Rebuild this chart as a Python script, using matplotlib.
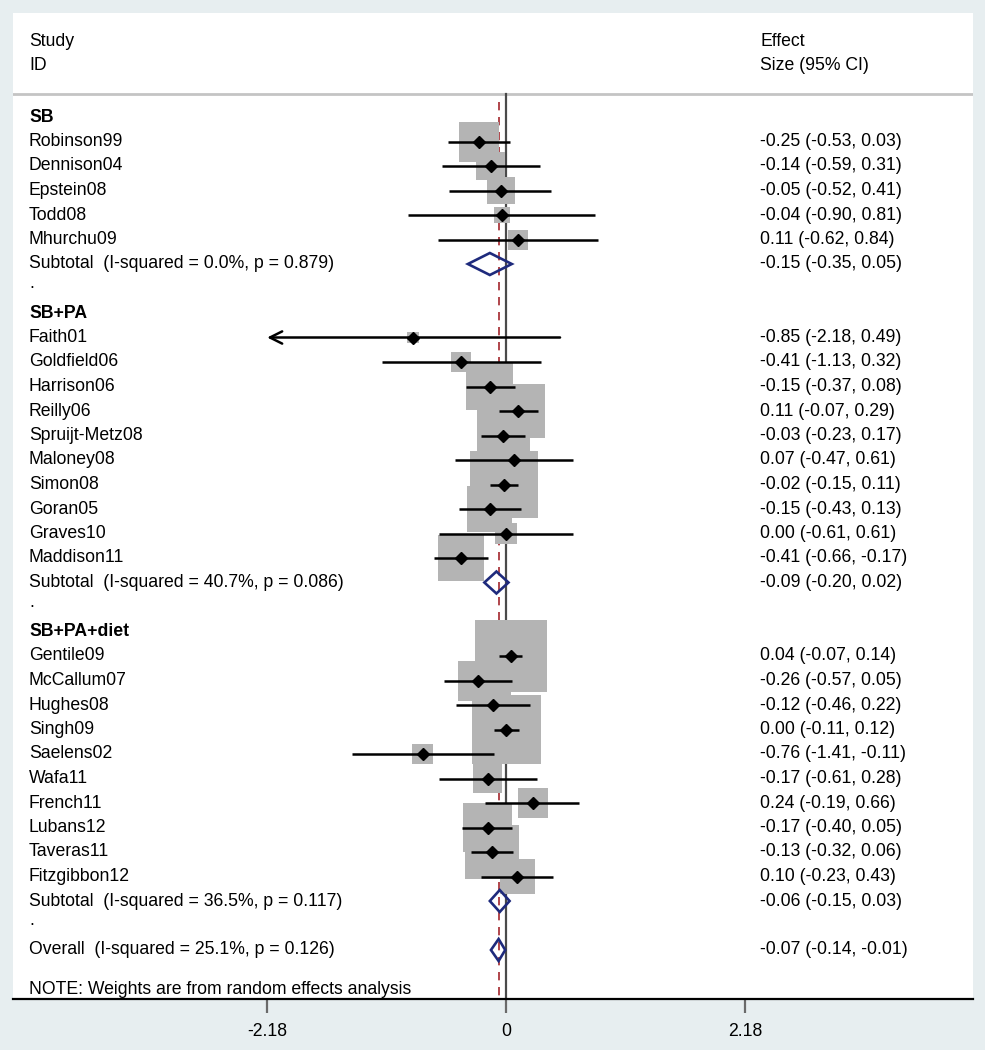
import numpy as np
import matplotlib.pyplot as plt
from matplotlib.patches import Rectangle, Polygon
from matplotlib.transforms import blended_transform_factory

plt.rcParams['font.family'] = ['Liberation Sans', 'DejaVu Sans']

# Datos: efecto, IC 95% y peso relativo (tamano de la caja)
sb_names = ["Robinson99", "Dennison04", "Epstein08", "Todd08", "Mhurchu09"]
sb_es = [-0.25, -0.14, -0.05, -0.04, 0.11]
sb_lo = [-0.53, -0.59, -0.52, -0.90, -0.62]
sb_hi = [0.03, 0.31, 0.41, 0.81, 0.84]
sb_w = [16.0, 8.4, 7.8, 2.6, 4.0]
sb_sub = [-0.15, -0.35, 0.05]
sb_het = "Subtotal  (I-squared = 0.0%, p = 0.879)"

pa_names = ["Faith01", "Goldfield06", "Harrison06", "Reilly06", "Spruijt-Metz08",
            "Maloney08", "Simon08", "Goran05", "Graves10", "Maddison11"]
pa_es = [-0.85, -0.41, -0.15, 0.11, -0.03, 0.07, -0.02, -0.15, 0.00, -0.41]
pa_lo = [-2.18, -1.13, -0.37, -0.07, -0.23, -0.47, -0.15, -0.43, -0.61, -0.66]
pa_hi = [0.49, 0.32, 0.08, 0.29, 0.17, 0.61, 0.11, 0.13, 0.61, -0.17]
pa_w = [1.4, 4.0, 22.1, 29.2, 28.1, 5.8, 46.2, 20.3, 4.8, 21.2]
pa_sub = [-0.09, -0.20, 0.02]
pa_het = "Subtotal  (I-squared = 40.7%, p = 0.086)"

diet_names = ["Gentile09", "McCallum07", "Hughes08", "Singh09", "Saelens02",
              "Wafa11", "French11", "Lubans12", "Taveras11", "Fitzgibbon12"]
diet_es = [0.04, -0.26, -0.12, 0.00, -0.76, -0.17, 0.24, -0.17, -0.13, 0.10]
diet_lo = [-0.07, -0.57, -0.46, -0.11, -1.41, -0.61, -0.19, -0.40, -0.32, -0.23]
diet_hi = [0.14, 0.05, 0.22, 0.12, -0.11, 0.28, 0.66, 0.05, 0.06, 0.43]
diet_w = [51.8, 16.0, 13.0, 47.6, 4.4, 8.4, 9.0, 24.0, 29.2, 12.3]
diet_sub = [-0.06, -0.15, 0.03]
diet_het = "Subtotal  (I-squared = 36.5%, p = 0.117)"

overall = [-0.07, -0.14, -0.01]
overall_het = "Overall  (I-squared = 25.1%, p = 0.126)"

group_labels = ["SB", "SB+PA", "SB+PA+diet"]
tick_vals = [-2.18, 0, 2.18]
tick_labels = ["-2.18", "0", "2.18"]

groups = [
    (group_labels[0], sb_names, sb_es, sb_lo, sb_hi, sb_w, sb_sub, sb_het),
    (group_labels[1], pa_names, pa_es, pa_lo, pa_hi, pa_w, pa_sub, pa_het),
    (group_labels[2], diet_names, diet_es, diet_lo, diet_hi, diet_w, diet_sub, diet_het),
]

# Figura
W, H = 985, 1050
fig = plt.figure(figsize=(W / 100, H / 100), dpi=100, facecolor='#e7eef0')
ax_l, ax_r, ax_t, ax_b = 13, 973, 13, 999
ax = fig.add_axes([ax_l / W, (H - ax_b) / H, (ax_r - ax_l) / W, (ax_b - ax_t) / H])
ax.set_facecolor('white')

x0_px, px_unit = 506.3, 109.7
ax.set_xlim((ax_l - x0_px) / px_unit, (ax_r - x0_px) / px_unit)
row0_px, px_row = 117, 24.5
ax.set_ylim((ax_b - row0_px) / px_row, (ax_t - row0_px) / px_row)

trans = blended_transform_factory(ax.transAxes, ax.transData)
x_lab = (29 - ax_l) / (ax_r - ax_l)
x_val = (760 - ax_l) / (ax_r - ax_l)
fs = 12.7
navy = '#1e2a7c'
xmin = tick_vals[0]


def fmt(es, lo, hi):
    return f"{es:.2f} ({lo:.2f}, {hi:.2f})"


def diamond(row, es, lo, hi):
    hh = 11 / px_row
    ax.add_patch(Polygon([(lo, row), (es, row - hh), (hi, row), (es, row + hh)],
                         closed=True, fill=False, edgecolor=navy, lw=1.9, zorder=5))


# Cabecera
ax.text(x_lab, (42 - row0_px) / px_row, "Study", transform=trans, fontsize=fs, va='center')
ax.text(x_lab, (65 - row0_px) / px_row, "ID", transform=trans, fontsize=fs, va='center')
ax.text(x_val, (42 - row0_px) / px_row, "Effect", transform=trans, fontsize=fs, va='center')
ax.text(x_val, (65 - row0_px) / px_row, "Size (95% CI)", transform=trans, fontsize=fs, va='center')
y_hdr = (94 - row0_px) / px_row
ax.axhline(y_hdr, color='#c4c4c4', lw=2, zorder=1)

row = 0
for glabel, names, es, lo, hi, w, sub, het in groups:
    ax.text(x_lab, row, glabel, transform=trans, fontsize=fs, va='center', fontweight='bold')
    row += 1
    for n, e, l, h, wt in zip(names, es, lo, hi, w):
        side = 10 * np.sqrt(wt)
        bw, bh = side / px_unit, side / px_row
        ax.add_patch(Rectangle((e - bw / 2, row - bh / 2), bw, bh,
                               facecolor='#b4b4b4', edgecolor='none', zorder=3))
        if l <= xmin:
            ax.annotate('', xy=(l, row), xytext=(h, row),
                        arrowprops=dict(arrowstyle='->', lw=1.8, color='black',
                                        mutation_scale=22, shrinkA=0, shrinkB=0),
                        zorder=4)
        else:
            ax.plot([l, h], [row, row], color='black', lw=1.8, zorder=4,
                    solid_capstyle='butt')
        ax.plot(e, row, marker='D', color='black', ms=6, zorder=6)
        ax.text(x_lab, row, n, transform=trans, fontsize=fs, va='center')
        ax.text(x_val, row, fmt(e, l, h), transform=trans, fontsize=fs, va='center')
        row += 1
    diamond(row, *sub)
    ax.text(x_lab, row, het, transform=trans, fontsize=fs, va='center')
    ax.text(x_val, row, fmt(*sub), transform=trans, fontsize=fs, va='center')
    row += 1
    ax.text(x_lab, row - 0.2, ".", transform=trans, fontsize=fs, va='center')
    row += 1

diamond(row, *overall)
ax.text(x_lab, row, overall_het, transform=trans, fontsize=fs, va='center')
ax.text(x_val, row, fmt(*overall), transform=trans, fontsize=fs, va='center')
ax.text(x_lab, (989 - row0_px) / px_row, "NOTE: Weights are from random effects analysis",
        transform=trans, fontsize=fs, va='center')

# Lineas verticales: cero y efecto global
ybot = ax.get_ylim()[0]
ax.plot([0, 0], [y_hdr, ybot], color='#4a4a4a', lw=1.6, zorder=2)
ax.plot([overall[0], overall[0]], [(102 - row0_px) / px_row, ybot], color='#a3262c',
        lw=1.2, ls=(0, (5, 4)), zorder=2)

# Ejes
for s in ['top', 'left', 'right']:
    ax.spines[s].set_visible(False)
ax.spines['bottom'].set_linewidth(1.6)
ax.set_yticks([])
ax.set_xticks(tick_vals)
ax.set_xticklabels(tick_labels, fontsize=fs)
ax.tick_params(axis='x', direction='out', length=10, width=1.6, pad=7, colors='#6a6a6a',
               labelcolor='black')
ax.get_xticklines()[2].set_color('black')

fig.savefig('out.png', dpi=100, facecolor=fig.get_facecolor())
